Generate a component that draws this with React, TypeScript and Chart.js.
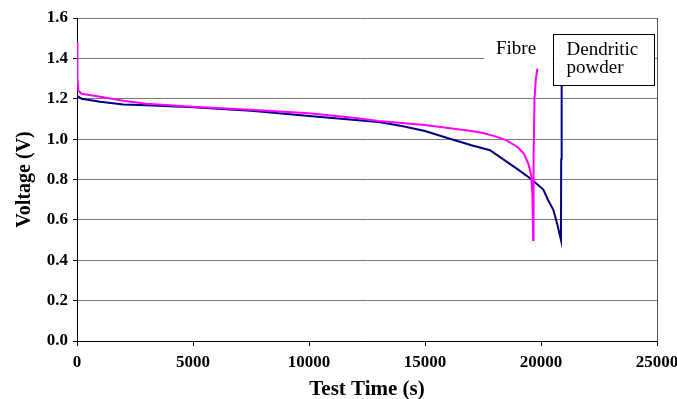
import React, { useEffect, useRef } from "react";
import { Chart, registerables } from "chart.js";

Chart.register(...registerables);

const fibreTime = [0, 20, 60, 200, 1000, 2000, 3000, 5000, 7500, 10000, 12000, 13000, 15000, 16000, 17000, 17500, 18000, 18500, 19000, 19250, 19450, 19580, 19630, 19650, 19660, 19680, 19720, 19780, 19850];
const fibreVolt = [1.48, 1.3, 1.24, 1.225, 1.21, 1.19, 1.175, 1.16, 1.145, 1.128, 1.105, 1.09, 1.07, 1.055, 1.04, 1.03, 1.015, 0.995, 0.96, 0.93, 0.88, 0.82, 0.72, 0.6, 0.5, 0.9, 1.2, 1.3, 1.35];

const powderTime = [0, 200, 1000, 2000, 3000, 5000, 7500, 10000, 12000, 13000, 14000, 15000, 16000, 17000, 17800, 18500, 19000, 19600, 20100, 20300, 20530, 20700, 20860, 20870, 20880, 20900];
const powderVolt = [1.215, 1.2, 1.185, 1.172, 1.168, 1.158, 1.14, 1.115, 1.095, 1.085, 1.065, 1.04, 1.004, 0.97, 0.945, 0.89, 0.85, 0.8, 0.75, 0.7, 0.65, 0.58, 0.5, 0.9, 1.25, 1.32];

const xTicks = [0, 5000, 10000, 15000, 20000, 25000];
const yTicks = [0, 0.2, 0.4, 0.6, 0.8, 1.0, 1.2, 1.4, 1.6];

const FONT = "'Liberation Serif', 'Times New Roman', serif";

const annotationPlugin = {
  id: "annots",
  afterDatasetsDraw(chart: any) {
    const { ctx, scales, chartArea } = chart;
    const xs = scales.x;
    const ys = scales.y;
    ctx.save();
    // white patch under "Fibre" label
    const px1 = xs.getPixelForValue(17550);
    const px2 = xs.getPixelForValue(20500);
    const py1 = ys.getPixelForValue(1.5);
    const py2 = ys.getPixelForValue(1.375);
    ctx.fillStyle = "#fff";
    ctx.fillRect(px1, py1, px2 - px1, py2 - py1);
    ctx.fillStyle = "#000";
    ctx.font = `19px ${FONT}`;
    ctx.textBaseline = "alphabetic";
    ctx.textAlign = "left";
    ctx.fillText("Fibre", xs.getPixelForValue(18060), ys.getPixelForValue(1.42));
    // Dendritic powder box
    const bx1 = Math.round(xs.getPixelForValue(20520)) + 0.5;
    const bx2 = Math.round(xs.getPixelForValue(24870)) + 0.5;
    const by1 = Math.round(ys.getPixelForValue(1.52)) + 0.5;
    const by2 = Math.round(ys.getPixelForValue(1.27)) + 0.5;
    ctx.fillStyle = "#fff";
    ctx.fillRect(bx1, by1, bx2 - bx1, by2 - by1);
    ctx.strokeStyle = "#000";
    ctx.lineWidth = 1;
    ctx.strokeRect(bx1, by1, bx2 - bx1, by2 - by1);
    ctx.fillStyle = "#000";
    ctx.font = `19px ${FONT}`;
    ctx.fillText("Dendritic", bx1 + 13, by1 + 20);
    ctx.fillText("powder", bx1 + 13, by1 + 38);
    // right border
    ctx.strokeStyle = "#555";
    ctx.beginPath();
    const rx = Math.round(chartArea.right) + 0.5;
    ctx.moveTo(rx, chartArea.top);
    ctx.lineTo(rx, chartArea.bottom);
    ctx.stroke();
    ctx.restore();
  },
};

export default function App() {
  const ref = useRef<HTMLCanvasElement | null>(null);
  useEffect(() => {
    if (!ref.current) return;
    const chart = new Chart(ref.current, {
      type: "line",
      data: {
        datasets: [
          {
            label: "Fibre",
            data: fibreTime.map((t, i) => ({ x: t, y: fibreVolt[i] })),
            borderColor: "#ff00ff",
            borderWidth: 2,
            pointRadius: 0,
            tension: 0,
            fill: false,
          },
          {
            label: "Dendritic powder",
            data: powderTime.map((t, i) => ({ x: t, y: powderVolt[i] })),
            borderColor: "#000080",
            borderWidth: 2,
            pointRadius: 0,
            tension: 0,
            fill: false,
          },
        ],
      },
      options: {
        animation: false,
        responsive: false,
        maintainAspectRatio: false,
        layout: { padding: { top: 18, right: 20, left: 0, bottom: 0 } },
        plugins: { legend: { display: false }, tooltip: { enabled: false } },
        scales: {
          x: {
            type: "linear",
            min: 0,
            max: 25000,
            afterBuildTicks: (s: any) => {
              s.ticks = xTicks.map((v) => ({ value: v }));
            },
            afterFit: (s: any) => {
              s.height = 58;
              s.paddingLeft = 0;
              s.paddingRight = 0;
            },
            ticks: {
              color: "#000",
              font: { family: FONT, size: 17, weight: "bold" },
              padding: 6,
              maxRotation: 0,
              autoSkip: false,
              callback: (v: any) => String(v),
            },
            grid: {
              display: true,
              drawOnChartArea: false,
              drawTicks: true,
              tickLength: 5,
              tickColor: "#000",
            },
            border: { color: "#000", width: 1 },
            title: {
              display: true,
              text: "Test Time (s)",
              color: "#000",
              font: { family: FONT, size: 21, weight: "bold", lineHeight: 0.9 },
              padding: { top: 0, bottom: 0 },
            },
          },
          y: {
            type: "linear",
            min: 0,
            max: 1.6,
            afterBuildTicks: (s: any) => {
              s.ticks = yTicks.map((v) => ({ value: v }));
            },
            afterFit: (s: any) => {
              s.width = 77;
              s.paddingTop = 0;
              s.paddingBottom = 0;
            },
            ticks: {
              color: "#000",
              font: { family: FONT, size: 17, weight: "bold" },
              padding: 5,
              callback: (v: any) => Number(v).toFixed(1),
            },
            grid: {
              color: "#777",
              lineWidth: 1,
              drawTicks: true,
              tickLength: 4,
              tickColor: "#000",
            },
            border: { color: "#000", width: 1 },
            title: {
              display: true,
              text: "Voltage (V)",
              color: "#000",
              font: { family: FONT, size: 20, weight: "bold", lineHeight: 1 },
              padding: { top: 15, bottom: 0 },
            },
          },
        },
      },
      plugins: [annotationPlugin],
    } as any);
    return () => chart.destroy();
  }, []);
  return (
    <div style={{ position: "fixed", left: 0, top: 0, width: 677, height: 399, background: "#fff" }}>
      <canvas ref={ref} width={677} height={399} style={{ width: 677, height: 399, display: "block" }} />
    </div>
  );
}
